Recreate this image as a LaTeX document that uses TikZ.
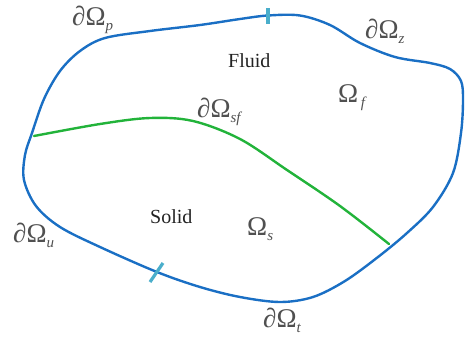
\documentclass[tikz,border=0pt]{standalone}
\usepackage{fontspec}
\setmainfont{Liberation Serif}
\definecolor{bnd}{HTML}{1A6FC4}
\definecolor{ifc}{HTML}{22B33A}
\definecolor{tick}{HTML}{4AAECB}
\definecolor{lbl}{HTML}{505050}
\definecolor{txt}{HTML}{222222}
\newcommand{\dOm}[2]{{\fontsize{27}{27}\selectfont #1Ω}\raisebox{-5pt}{\fontsize{15}{15}\selectfont\itshape #2}}
\tikzset{
  boundary/.style={draw=bnd, line width=2.4pt, line join=round},
  interface/.style={draw=ifc, line width=2.4pt, line cap=round},
  marker/.style={draw=tick, line width=3.2pt},
  omlabel/.style={anchor=base west, inner sep=0pt, text=lbl},
  region/.style={anchor=base west, inner sep=0pt, text=txt, font=\fontsize{20}{20}\selectfont},
}
\begin{document}
\begin{tikzpicture}[x=1pt,y=-1pt]
\useasboundingbox (0,0) rectangle (465,340);
% outer boundary
\draw[boundary] plot[smooth cycle, tension=0.55] coordinates {
 (32,133) (44,99) (60,71) (80,51) (105,38) (150,31) (200,25) (240,19) (268,15.5) (300,15.5)
 (330,25) (360,43) (395,57) (430,63) (450,69) (461,81) (463,100) (461,133)
 (453,173) (433,207) (407,233) (378,257) (345,281) (313,297) (280,302)
 (240,297) (200,287) (157,272) (100,247) (60,227) (36,206) (24,180) (25,155)};
% interface
\draw[interface] plot[smooth, tension=0.55] coordinates {
 (34,136) (100,124) (150,118) (193,121) (240,139) (287,170) (340,206) (389,244)};
% markers
\draw[marker] (268,8) -- (268,24);
\draw[marker] (150,282) -- (163,263);
% labels
\node[omlabel] (dp) at (72,25) {\dOm{∂}{p}};
\node[omlabel] (dz) at (365,38) {\dOm{∂}{z}};
\node[omlabel] (of) at (338,102) {\dOm{}{\,f}};
\node[omlabel] (dsf) at (197,117) {\dOm{∂}{sf}};
\node[omlabel] (os) at (247,235) {\dOm{}{s}};
\node[omlabel] (du) at (13,242) {\dOm{∂}{u}};
\node[omlabel] (dt) at (263,327) {\dOm{∂}{t}};
\node[region] (fluid) at (228,67) {Fluid};
\node[region] (solid) at (150,223) {Solid};
\end{tikzpicture}
\end{document}
